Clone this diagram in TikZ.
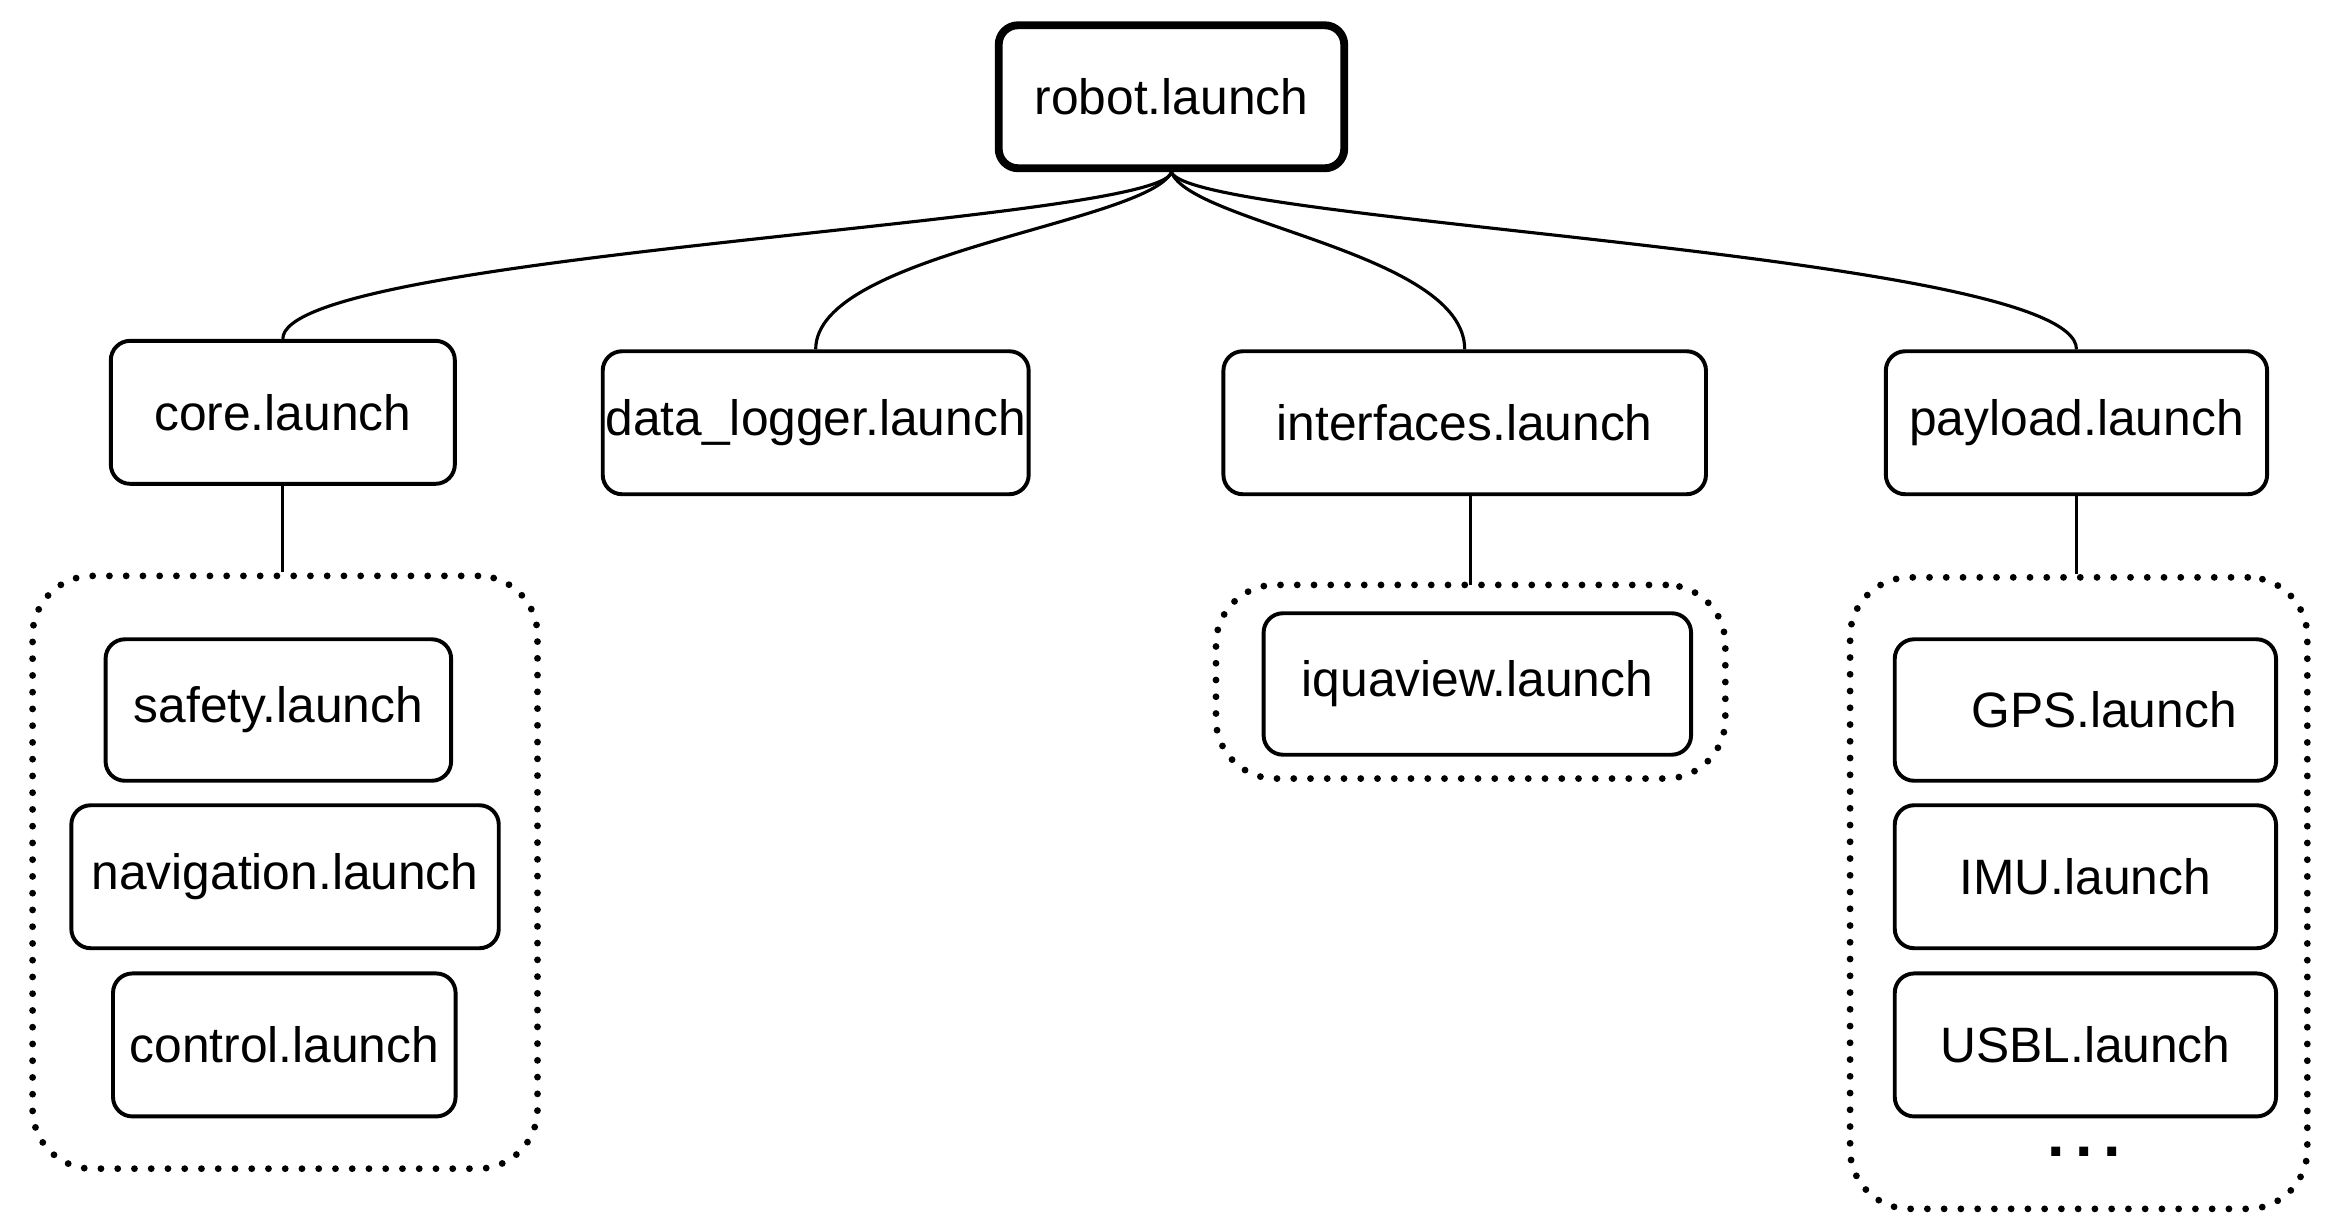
\documentclass[tikz,border=0pt]{standalone}
\usepackage{fontspec}
\setmainfont{Liberation Sans}
\begin{document}
\begin{tikzpicture}[x=0.01cm,y=-0.01cm,
 box/.style={draw,line width=0.75pt,rounded corners=0.13cm,inner sep=0pt,font=\fontsize{9.5}{11}\selectfont},
 grp/.style={draw,line width=1.3pt,dash pattern=on 0pt off 3.2pt,line cap=round,rounded corners=0.4cm},
 ln/.style={line width=0.6pt}]
\useasboundingbox (0,0) rectangle (1568,827);
\newcommand{\bx}[6]{\node[box,#6,minimum width=#4*0.01cm,minimum height=#5*0.01cm] (#1) at (#2,#3) {};}
\node[box,line width=1.5pt,minimum width=2.32cm,minimum height=0.96cm] (robot) at (787,65) {robot.launch};
\node[box,minimum width=2.31cm,minimum height=0.96cm] (core) at (190,277) {core.launch};
\node[box,minimum width=2.86cm,minimum height=0.96cm] (dl) at (548,284) {data\_logger.launch};
\node[box,minimum width=3.24cm,minimum height=0.96cm] (int) at (984,284) {interfaces.launch};
\node[box,minimum width=2.56cm,minimum height=0.96cm] (pay) at (1395,284) {payload.launch};
\node[grp,minimum width=3.39cm,minimum height=3.98cm] (g1) at (191.5,586) {};
\node[grp,minimum width=3.42cm,minimum height=1.30cm] (g2) at (988,458) {};
\node[grp,minimum width=3.07cm,minimum height=4.24cm] (g3) at (1396.5,600) {};
\node[box,minimum width=2.32cm,minimum height=0.95cm] (safety) at (187,477) {safety.launch};
\node[box,minimum width=2.87cm,minimum height=0.96cm] (nav) at (191.5,589) {navigation.launch};
\node[box,minimum width=2.30cm,minimum height=0.96cm] (ctrl) at (191,702) {control.launch};
\node[box,minimum width=2.87cm,minimum height=0.95cm] (iqua) at (992.5,459.5) {iquaview.launch};
\node[box,minimum width=2.56cm,minimum height=0.95cm] (gps) at (1401,477) {\hspace{0.25cm}GPS.launch};
\node[box,minimum width=2.56cm,minimum height=0.96cm] (imu) at (1401,589) {IMU.launch};
\node[box,minimum width=2.56cm,minimum height=0.96cm] (usbl) at (1401,702) {USBL.launch};
\node[font=\fontsize{12}{12}\selectfont\bfseries] (dots) at (1400,774) {.\,.\,.};
\draw[ln] (robot.south) .. controls (780,150) and (190,170) .. (core.north);
\draw[ln] (robot.south) .. controls (770,150) and (548,170) .. (dl.north);
\draw[ln] (robot.south) .. controls (800,150) and (984,170) .. (int.north);
\draw[ln] (robot.south) .. controls (800,150) and (1395,170) .. (pay.north);
\draw[ln] (core.south) -- (core.south|-g1.north);
\draw[ln] (988,332) -- (988,393);
\draw[ln] (pay.south) -- (pay.south|-g3.north);
\end{tikzpicture}
\end{document}
